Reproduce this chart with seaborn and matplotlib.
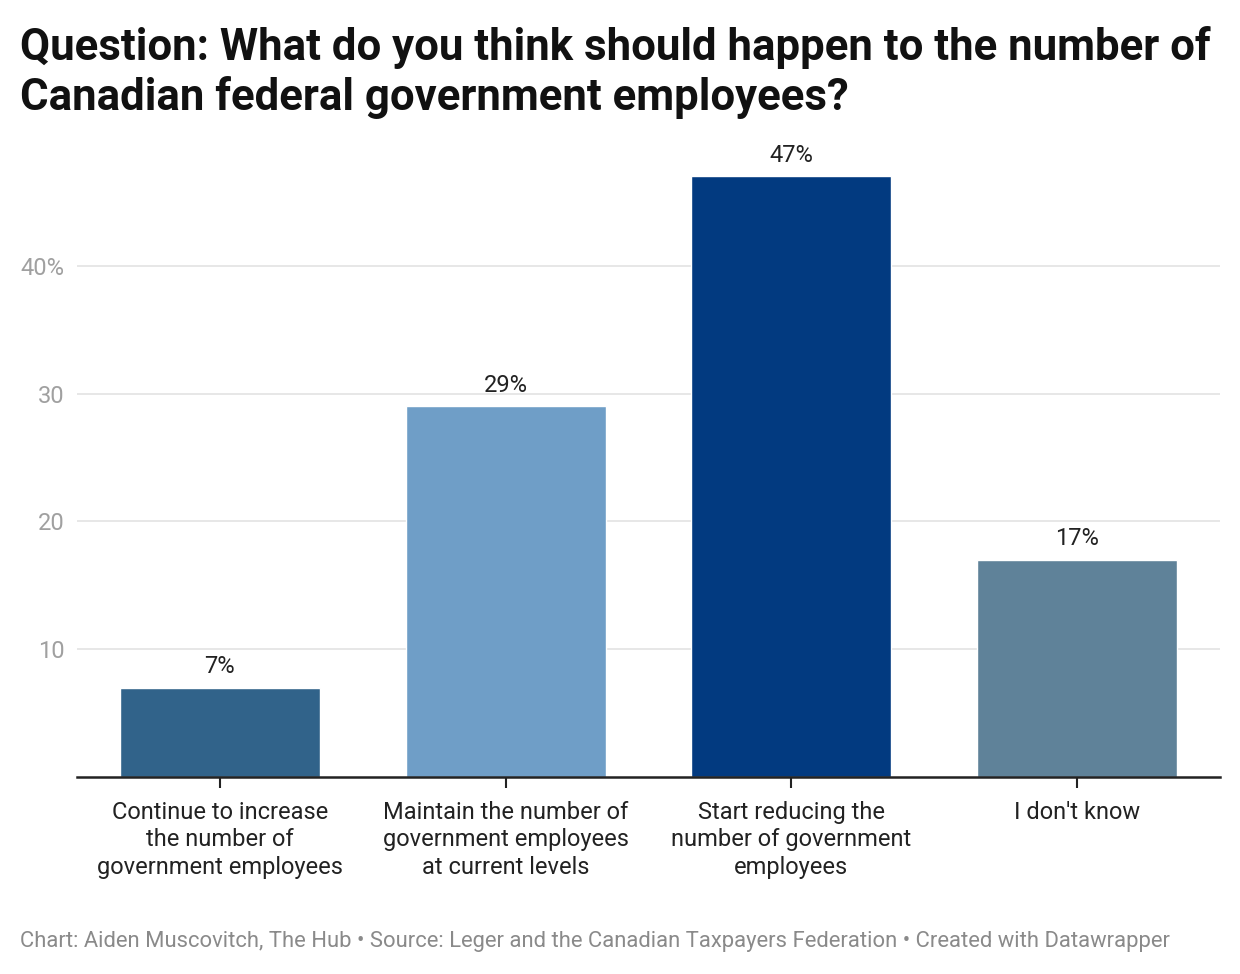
import matplotlib
matplotlib.use("Agg")
import matplotlib.pyplot as plt
import seaborn as sns
import pandas as pd

categories = ["Continue to increase\nthe number of\ngovernment employees",
              "Maintain the number of\ngovernment employees\nat current levels",
              "Start reducing the\nnumber of government\nemployees",
              "I don't know"]
values = [7, 29, 47, 17]
colors = ["#31638a", "#6f9ec7", "#023a80", "#5f8299"]
yticks = [10, 20, 30, 40]
ytick_labels = ["10", "20", "30", "40%"]

sns.set_theme(style="white")
plt.rcParams['font.family'] = ['Roboto', 'DejaVu Sans']

df = pd.DataFrame({"cat": categories, "val": values})
fig = plt.figure(figsize=(12.4, 9.74), dpi=100)
ax = fig.add_axes([77/1240, 1-777/974, (1220-77)/1240, (777-170)/974])
sns.barplot(data=df, x="cat", y="val", hue="cat", palette=colors, width=0.7,
            legend=False, ax=ax, saturation=1)
ax.set_ylim(0, 47.5)
ax.set_xlim(-0.5, 3.5)
ax.set_yticks(yticks)
ax.set_yticklabels(ytick_labels, color="#a0a0a0", fontsize=17)
ax.yaxis.grid(True, color="#e3e3e3", linewidth=1.2)
ax.set_axisbelow(True)
ax.tick_params(axis="y", length=0, pad=9)
ax.tick_params(axis="x", length=8, width=1.5, color="#222222", direction="out",
               labelsize=17, labelcolor="#222222", pad=9, bottom=True)
for lbl in ax.get_xticklabels():
    lbl.set_linespacing(1.27)
for s in ["top", "right", "left"]:
    ax.spines[s].set_visible(False)
ax.spines["bottom"].set_color("#222222")
ax.spines["bottom"].set_linewidth(1.8)
ax.set_xlabel("")
ax.set_ylabel("")
for i, v in enumerate(values):
    ax.text(i, v + 0.75, f"{v}%", ha="center", va="bottom", fontsize=17,
            color="#222222", clip_on=False)

fig.text(20/1240, 1-26/974, "Question: What do you think should happen to the number of\nCanadian federal government employees?",
         ha="left", va="top", fontsize=31.5, fontweight="bold", color="#111111", linespacing=1.22)
fig.text(20/1240, 1-941/974, "Chart: Aiden Muscovitch, The Hub • Source: Leger and the Canadian Taxpayers Federation • Created with Datawrapper",
         ha="left", va="center", fontsize=15.8, color="#8a8a8a")
fig.savefig("out.png", dpi=100)
